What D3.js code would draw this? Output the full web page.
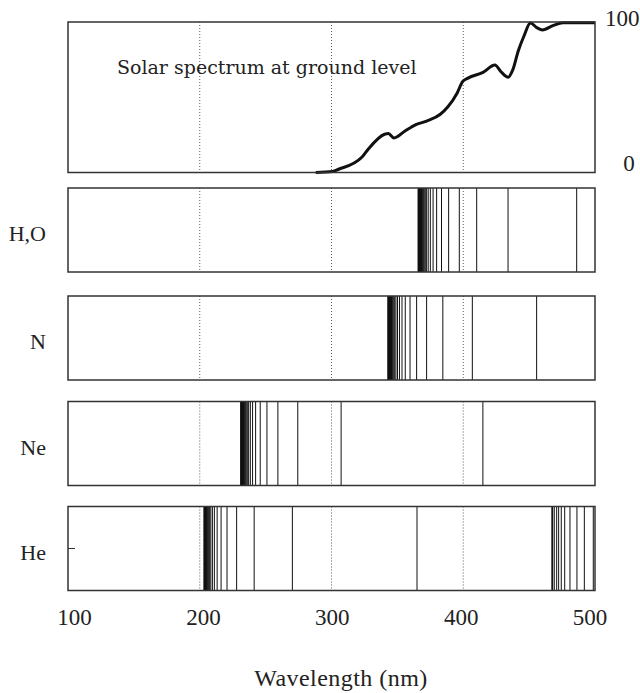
<!DOCTYPE html>
<html>
<head>
<meta charset="utf-8">
<script src="https://cdn.jsdelivr.net/npm/d3@7"></script>
<style>
  body { margin: 0; background: #fff; }
</style>
</head>
<body>
<div id="chart"></div>
<script>
// wavelength axis
var xTicks = [100, 200, 300, 400, 500];
var gridLines = [200, 300, 400];

// solar spectrum at ground level (relative intensity, %)
var solarWl  = [288, 301, 305, 323.4, 327.7, 340.3, 343.2, 347.4, 355.8, 364.1, 372.7, 382.6, 388.2, 395.3, 399.5, 403.6, 415, 424, 429.1, 434.1, 437.5, 441.8, 446.1, 451, 455.8, 460.1, 468.5, 475.6, 500];
var solarPct = [0, 0.7, 2, 10.5, 15.3, 25.4, 25.9, 23, 27.6, 31.8, 34.3, 38.7, 43.5, 52.7, 60.4, 62.7, 66.5, 71.4, 66.5, 63.3, 68, 80.9, 90.7, 99.3, 96.3, 94.7, 97.8, 99.5, 99.5];

// emission lines (nm)
var elements = ["H,O", "N", "Ne", "He"];
var linesHO = [486.1, 434.0, 410.2, 397.0, 388.9, 383.5, 379.8, 377.1, 375.0, 373.4, 372.2, 371.2, 370.4, 369.7, 369.2, 368.7, 368.3, 368.0, 367.7, 367.4, 367.2, 367.0, 366.8, 366.6, 366.5, 366.3, 366.2, 366.0, 365.9, 365.8];
var linesN  = [455.7, 406.9, 384.5, 372.2, 364.6, 359.6, 356.0, 353.5, 351.6, 350.1, 348.9, 348.0, 347.3, 346.6, 346.1, 345.6, 345.3, 345.0, 344.7, 344.4, 344.2, 344.0, 343.8, 343.6, 343.5, 343.3, 343.2, 343.1, 343.0, 342.9];
var linesNe = [414.9, 307.3, 274.4, 259.3, 251.0, 245.9, 242.4, 240.1, 238.4, 237.1, 236.1, 235.3, 234.6, 234.1, 233.6, 233.2, 232.9, 232.6, 232.4, 232.2, 232.0, 231.9, 231.7, 231.6, 231.5, 231.4, 231.3, 231.2];
var linesHe = [364.9, 270.3, 241.3, 228.0, 220.7, 216.2, 213.2, 211.1, 209.6, 208.4, 207.5, 206.8, 206.2, 205.7, 205.3, 204.9, 204.6, 204.4, 204.2, 204.0, 203.9, 203.7, 203.6, 203.5, 203.4, 203.3,
               467.3, 467.6, 467.9, 469.1, 470.9, 472.4, 474.4, 477.0, 481.0, 486.3, 491.9, 498.7];
var allLines = [linesHO, linesN, linesNe, linesHe];

var width = 640;
var height = 693;
var times = "'Liberation Serif', 'Times New Roman', serif";
var century = "'DejaVu Serif', serif";

var svg = d3.select("#chart")
  .append("svg")
  .attr("width", width)
  .attr("height", height)
  .attr("font-family", times);

var x = d3.scaleLinear().domain([100, 500]).range([68, 595]);
// tick labels sit a little inside the frame ends
var xLab = d3.scaleLinear().domain([100, 500]).range([74.5, 590]);

// top panel
var top0 = 22, top1 = 172.5;
var y = d3.scaleLinear().domain([0, 100]).range([top1, top0]);

function drawGrid(g, y0, y1) {
  g.selectAll("line.grid")
    .data(gridLines)
    .enter().append("line")
    .attr("class", "grid")
    .attr("x1", function(d) { return x(d); })
    .attr("x2", function(d) { return x(d); })
    .attr("y1", y0)
    .attr("y2", y1)
    .attr("stroke", "#333")
    .attr("stroke-width", 0.8)
    .attr("stroke-dasharray", "1,2");
}

function drawFrame(g, y0, y1) {
  g.append("rect")
    .attr("x", x(100))
    .attr("y", y0)
    .attr("width", x(500) - x(100))
    .attr("height", y1 - y0)
    .attr("fill", "none")
    .attr("stroke", "#333")
    .attr("stroke-width", 1.5);
}

function label(g, px, py, size, txt, anchor, family) {
  return g.append("text")
    .attr("x", px)
    .attr("y", py)
    .attr("text-anchor", anchor || "start")
    .attr("font-family", family || times)
    .attr("fill", "#222")
    .style("font-size", size + "px")
    .text(txt);
}

var gTop = svg.append("g");
drawGrid(gTop, top0, top1);

var solar = solarWl.map(function(w, i) { return [w, solarPct[i]]; });
gTop.append("path")
  .datum(solar)
  .attr("d", d3.line()
    .x(function(d) { return x(d[0]); })
    .y(function(d) { return y(d[1]); })
    .curve(d3.curveMonotoneX))
  .attr("fill", "none")
  .attr("stroke", "#111")
  .attr("stroke-width", 3)
  .attr("stroke-linejoin", "round");

drawFrame(gTop, top0, top1);

label(gTop, 117, 74, 19, "Solar spectrum at ground level", "start", century);
label(gTop, 605, 26, 23, "100");
label(gTop, 629, 171, 23, "0", "middle");

// line spectra panels
var panelTops = [188, 296, 401.5, 506.5];
var panelH = 84;

elements.forEach(function(name, i) {
  var y0 = panelTops[i], y1 = y0 + panelH;
  var g = svg.append("g");
  drawGrid(g, y0, y1);

  g.selectAll("line.spec")
    .data(allLines[i])
    .enter().append("line")
    .attr("class", "spec")
    .attr("x1", function(d) { return x(d); })
    .attr("x2", function(d) { return x(d); })
    .attr("y1", y0)
    .attr("y2", y1)
    .attr("stroke", "#111")
    .attr("stroke-width", 1);

  drawFrame(g, y0, y1);

  label(g, 46, y0 + panelH / 2 + 11, 22, name, "end");
});

// small mark on the He panel
svg.append("line")
  .attr("x1", x(100)).attr("x2", x(100) + 7)
  .attr("y1", panelTops[3] + 42).attr("y2", panelTops[3] + 42)
  .attr("stroke", "#333").attr("stroke-width", 1);

// x axis labels
xTicks.forEach(function(d) {
  label(svg, xLab(d), 625, 23, d, "middle");
});

label(svg, 341, 686, 24, "Wavelength (nm)", "middle")
  .style("letter-spacing", "0.45px");
</script>
</body>
</html>
